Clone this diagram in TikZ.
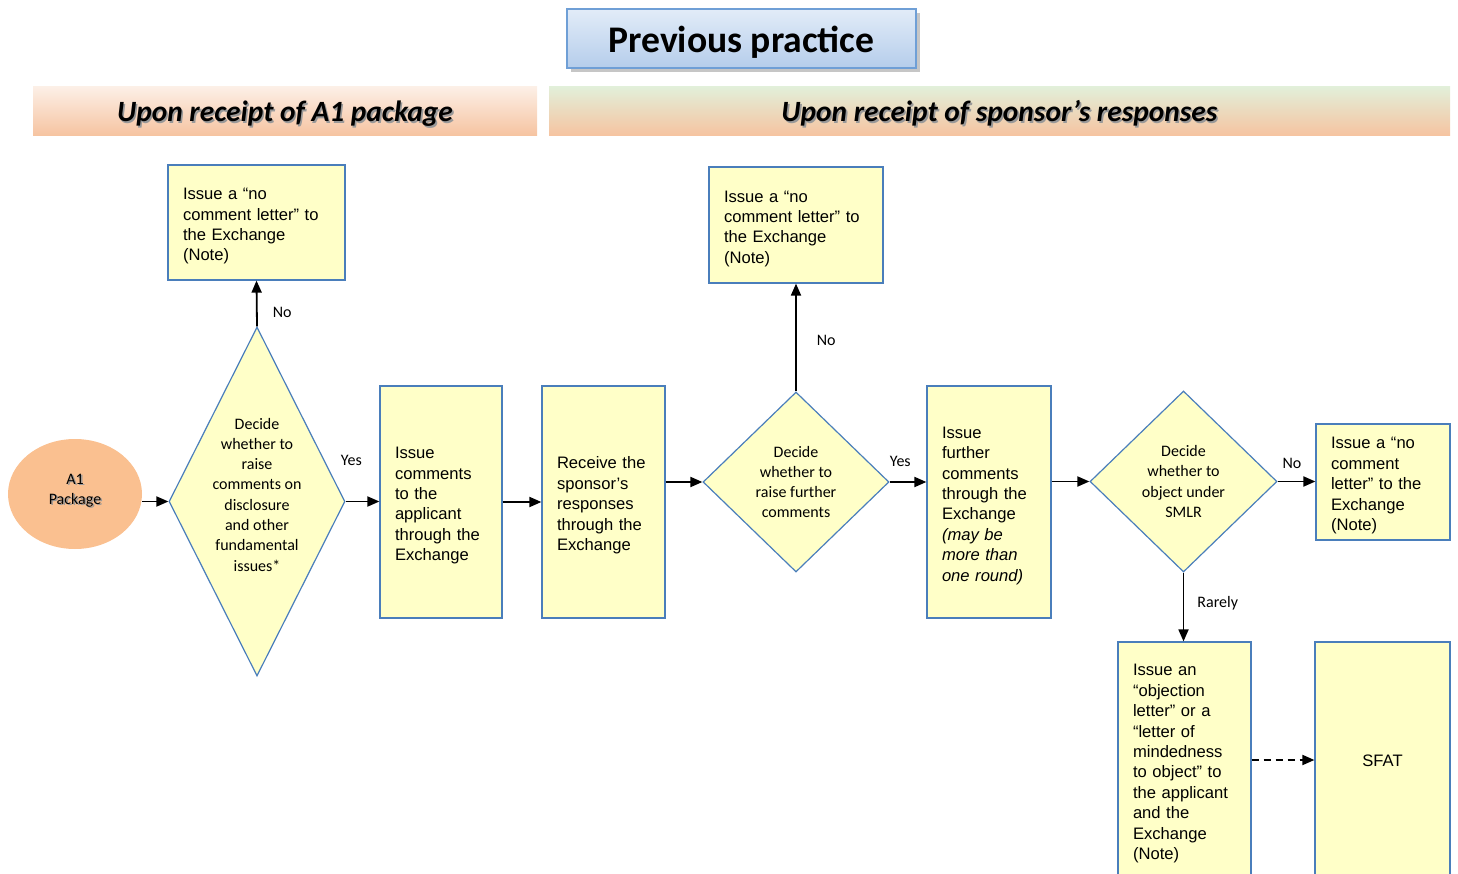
\documentclass[tikz,border=0pt]{standalone}
\usepackage{fontspec}
\setmainfont{Liberation Sans}
\newfontfamily\calib{Carlito}
\usetikzlibrary{shapes.geometric,arrows.meta,positioning,shadows}

\definecolor{boxfill}{HTML}{FFFFC8}
\definecolor{boxline}{HTML}{4A7EBB}
\definecolor{peach}{HTML}{FAC090}
\definecolor{titletop}{HTML}{E2ECF8}
\definecolor{titlebot}{HTML}{B5CDEB}
\definecolor{titleline}{HTML}{6F9FD6}
\definecolor{hdrtop}{HTML}{FCEFE6}
\definecolor{hdrgreen}{HTML}{E2EFD9}
\definecolor{hdrbot}{HTML}{F6C3A0}

\newcommand\shtext[1]{\makebox[0pt][l]{\kern1.6pt\raisebox{-1.6pt}{\textcolor{black!40}{#1}}}#1}

\tikzset{
    flowbox/.style={draw=boxline, line width=1.2pt, fill=boxfill, inner xsep=15pt, inner ysep=0pt,
        align=left, font=\fontsize{16.6}{20.4}\selectfont, execute at begin node={\rule{0pt}{19pt}}},
    decide/.style={diamond, draw=boxline, line width=1.2pt, fill=boxfill, inner sep=0pt,
        align=center, font=\calib\fontsize{16}{20.3}\selectfont},
    hdrbox/.style={inner sep=0pt, minimum height=49, bottom color=hdrbot, text height=21pt, text depth=0pt,
        font=\calib\bfseries\itshape\fontsize{29.4}{32}\selectfont},
    arr/.style={line width=1.8pt, -{Triangle[length=12pt,width=10pt]}},
    lab/.style={font=\calib\fontsize{16}{19}\selectfont, inner sep=2pt}
}

\begin{document}
\begin{tikzpicture}[x=1pt, y=-1pt]
    \useasboundingbox (0,0) rectangle (1458,874);
    \clip (0,0) rectangle (1458,874);

    % headings
    \node[draw=titleline, line width=1.5pt, top color=titletop, bottom color=titlebot,
        drop shadow={opacity=0.45, shadow xshift=4pt, shadow yshift=-4pt},
        minimum width=349, minimum height=59, inner sep=0pt, text height=29pt, text depth=0pt,
        font=\calib\bfseries\fontsize{37.6}{40}\selectfont] (title) at (741.5,38.5) {Previous practice};
    \node[hdrbox, top color=hdrtop, minimum width=504] (hdra) at (285,111.5) {\shtext{Upon receipt of A1 package}};
    \node[hdrbox, top color=hdrgreen, minimum width=901] (hdrb) at (999.5,111.5) {\shtext{Upon receipt of sponsor’s responses}};

    % first stage
    \node[ellipse, fill=peach, minimum width=134, minimum height=110, align=center,
        font=\calib\fontsize{16}{20.3}\selectfont] (pkg) at (75,494) {\shtext{A1}\\\shtext{Package}\rule[-10pt]{0pt}{10pt}};
    \node[decide, aspect=0.504, minimum width=176, minimum height=349] (da) at (257,501.5)
        {Decide\\whether to\\raise\\comments on\\disclosure\\and other\\fundamental\\issues*\rule[-14pt]{0pt}{14pt}};
    \node[flowbox, text width=147, minimum height=115] (nca) at (256.5,222.5)
        {Issue a “no\\comment letter” to\\the Exchange\\(Note)};
    \node[flowbox, text width=92, minimum height=232] (issue) at (441,502)
        {Issue\\comments\\to the\\applicant\\through the\\Exchange};

    % second stage
    \node[flowbox, text width=93, minimum height=232] (receive) at (603.5,502)
        {Receive the\\sponsor’s\\responses\\through the\\Exchange};
    \node[decide, aspect=1.03, minimum width=186, minimum height=180] (db) at (796,482)
        {Decide\\whether to\\raise further\\comments};
    \node[flowbox, text width=144, minimum height=116] (ncb) at (796,225)
        {Issue a “no\\comment letter” to\\the Exchange\\(Note)};
    \node[flowbox, text width=94, minimum height=232] (further) at (989,502)
        {Issue\\further\\comments\\through the\\Exchange\\\textit{(may be}\\\textit{more than}\\\textit{one round)}};
    \node[decide, aspect=1.03, minimum width=187, minimum height=181] (dc) at (1183.5,481.5)
        {Decide\\whether to\\object under\\SMLR};
    \node[flowbox, text width=104, minimum height=116] (ncc) at (1383,482)
        {Issue a “no\\comment\\letter” to the\\Exchange\\(Note)};
    \node[flowbox, text width=103, minimum height=236] (objn) at (1184.5,760)
        {Issue an\\“objection\\letter” or a\\“letter of\\mindedness\\to object” to\\the applicant\\and the\\Exchange\\(Note)};
    \node[flowbox, text width=105, minimum height=236, text depth=7pt, align=center] (sfat) at (1382.5,760) {SFAT};

    \draw[arr] (pkg.east |- da.west) -- (da.west);
    \draw[arr] (da.north) -- node[lab, pos=0.3, right=13pt] {No} (nca.south);
    \draw[arr] (da.east) -- node[lab, pos=0.17, above=33pt] {Yes} (da.east -| issue.west);
    \draw[arr] (issue.east) -- (receive.west);
    \draw[arr] (receive.east |- db.west) -- (db.west);
    \draw[arr] (db.north) -- node[lab, pos=0.47, right=18pt] {No} (ncb.south);
    \draw[arr] (db.east) -- node[lab, pos=0.29, above=12pt] {Yes} (db.east -| further.west);
    \draw[arr] (further.east |- dc.west) -- (dc.west);
    \draw[arr] (dc.east) -- node[lab, pos=0.38, above=10pt] {No} (dc.east -| ncc.west);
    \draw[arr] (dc.south) -- node[lab, pos=0.45, right=11pt] {Rarely} (dc.south |- objn.north);
    \draw[arr, dash pattern=on 7pt off 5pt] (objn.east) -- (sfat.west);
\end{tikzpicture}
\end{document}
